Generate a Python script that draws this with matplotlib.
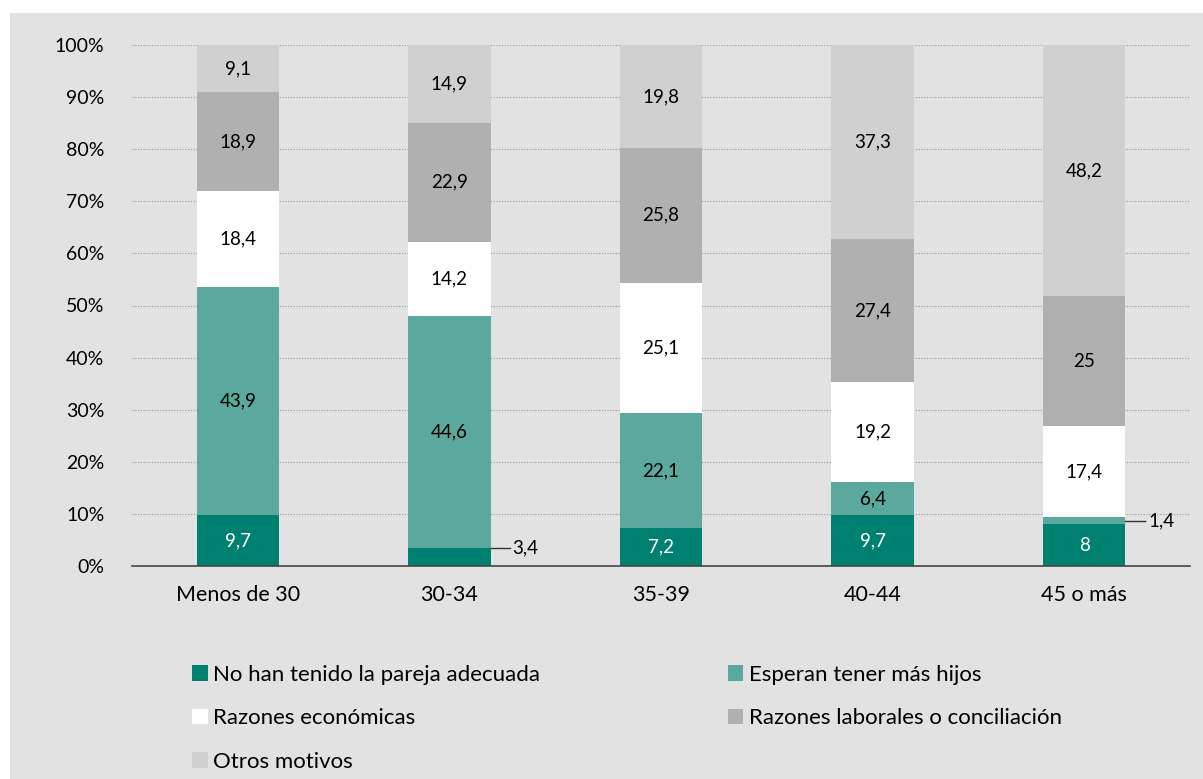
import matplotlib
matplotlib.use('Agg')
import matplotlib.pyplot as plt
import numpy as np
from matplotlib.patches import Patch

plt.rcParams['font.family'] = ['Lato', 'DejaVu Sans']

# datos
grupos = ['Menos de 30', '30-34', '35-39', '40-44', '45 o más']
series = ['No han tenido la pareja adecuada', 'Esperan tener más hijos',
          'Razones económicas', 'Razones laborales o conciliación', 'Otros motivos']
pareja = [9.7, 3.4, 7.2, 9.7, 8]
hijos = [43.9, 44.6, 22.1, 6.4, 1.4]
economicas = [18.4, 14.2, 25.1, 19.2, 17.4]
laborales = [18.9, 22.9, 25.8, 27.4, 25]
otros = [9.1, 14.9, 19.8, 37.3, 48.2]
etiquetas = [['9,7', '3,4', '7,2', '9,7', '8'],
             ['43,9', '44,6', '22,1', '6,4', '1,4'],
             ['18,4', '14,2', '25,1', '19,2', '17,4'],
             ['18,9', '22,9', '25,8', '27,4', '25'],
             ['9,1', '14,9', '19,8', '37,3', '48,2']]

colores = ['#008070', '#5ba89e', '#ffffff', '#b0b0b0', '#d0d0d0']
colores_txt = ['white', 'black', 'black', 'black', 'black']
fondo = '#e2e2e2'

fig = plt.figure(figsize=(12.03, 7.79), dpi=100)
fig.patch.set_facecolor('white')
# fondo gris desplazado (borde blanco arriba e izquierda)
fig.patches.append(plt.Rectangle((10 / 1203, 0), 1, 1 - 13 / 779,
                                 transform=fig.transFigure, facecolor=fondo,
                                 edgecolor='none', zorder=-10))

ax = fig.add_axes([132 / 1203, 1 - 566 / 779, (1190 - 132) / 1203, (566 - 45) / 779])
ax.set_facecolor(fondo)
ax.patch.set_alpha(0)

x = np.arange(len(grupos))
ancho = 0.39
datos = [pareja, hijos, economicas, laborales, otros]
base = np.zeros(len(grupos))
for i, vals in enumerate(datos):
    vals = np.array(vals, dtype=float)
    ax.bar(x, vals, ancho, bottom=base, color=colores[i], label=series[i],
           edgecolor='none', zorder=3)
    for j, v in enumerate(vals):
        if v < 5:
            continue
        ax.text(x[j], base[j] + v / 2, etiquetas[i][j], ha='center', va='center',
                fontsize=13.5, color=colores_txt[i], zorder=4)
    base += vals

# etiquetas externas de segmentos pequeños
ax.plot([x[1] + ancho / 2, x[1] + ancho / 2 + 0.09], [pareja[1]] * 2,
        color='#333333', lw=1, zorder=4, clip_on=False)
ax.text(x[1] + ancho / 2 + 0.1, pareja[1], etiquetas[0][1], ha='left', va='center',
        fontsize=13.5, zorder=4)
y14 = pareja[4] + hijos[4] / 2
ax.plot([x[4] + ancho / 2, x[4] + ancho / 2 + 0.09], [y14] * 2,
        color='#333333', lw=1, zorder=4, clip_on=False)
ax.text(x[4] + ancho / 2 + 0.11, y14, etiquetas[1][4], ha='left', va='center',
        fontsize=13.5, zorder=4)

ax.set_xlim(-0.5, 4.5)
ax.set_ylim(0, 100)
ax.set_yticks(np.arange(0, 101, 10))
ax.set_yticklabels([f'{t}%' for t in range(0, 101, 10)])
ax.yaxis.grid(True, linestyle=(0, (1, 1.5)), color='#999999', lw=0.8, zorder=0)
ax.set_axisbelow(True)
ax.set_xticks(x)
ax.set_xticklabels(grupos)
ax.tick_params(axis='y', length=0, pad=20, labelsize=14)
ax.tick_params(axis='x', length=0, pad=14, labelsize=15.5)
for s in ['top', 'right', 'left']:
    ax.spines[s].set_visible(False)
ax.spines['bottom'].set_color('#444444')
ax.spines['bottom'].set_linewidth(1.2)
ax.spines['bottom'].set_zorder(5)

# leyenda por filas: se reordena para que ncol=2 rellene fila a fila
orden = [0, 2, 4, 1, 3]
handles = [Patch(facecolor=colores[k], edgecolor='none') for k in orden]
fig.legend(handles, [series[k] for k in orden], ncol=2, loc='upper left',
           bbox_to_anchor=(172 / 1203, 1 - 645 / 779), frameon=False,
           fontsize=16, handlelength=0.7, handleheight=0.7, handletextpad=0.25,
           columnspacing=8.45, labelspacing=1.05)

fig.savefig('out.png', dpi=100, facecolor='white')
